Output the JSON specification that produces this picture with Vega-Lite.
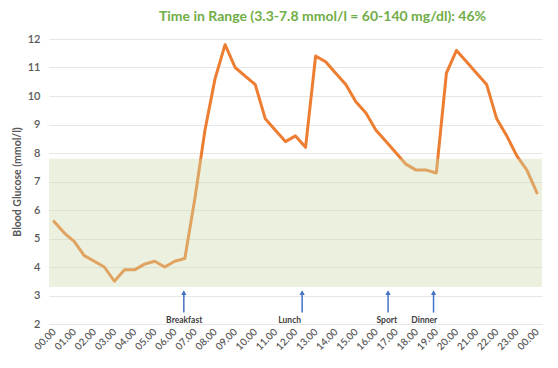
{
  "$schema": "https://vega.github.io/schema/vega-lite/v6.json",
  "width": 493,
  "height": 285,
  "autosize": {"type": "none"},
  "padding": {"left": 49, "top": 39, "right": 16, "bottom": 44},
  "background": "white",
  "config": {
    "view": {"stroke": null},
    "font": "Lato",
    "axis": {"labelFont": "Lato", "titleFont": "Lato"},
    "axisX": {
      "labelAngle": -45, "labelAlign": "right", "labelBaseline": "middle",
      "labelFontSize": 10, "labelFontWeight": 600, "labelColor": "#595959",
      "labelPadding": 6, "labelOverlap": false, "labelBound": false, "labelFlush": false,
      "ticks": false, "domain": false, "grid": false
    },
    "axisY": {
      "labelOverlap": false, "labelFontSize": 11, "labelFontWeight": 600, "labelColor": "#595959",
      "labelPadding": 9, "ticks": false, "domain": false, "gridColor": "#E6E6E6", "gridWidth": 1,
      "titleFontSize": 10.5, "titleFontWeight": "bold", "titleColor": "#595959", "titlePadding": 5
    }
  },
  "title": {
    "text": "Time in Range (3.3-7.8 mmol/l = 60-140 mg/dl): 46%",
    "color": "#70AD47",
    "fontSize": 14,
    "fontWeight": "bold",
    "font": "Lato",
    "anchor": "middle",
    "dx": 27,
    "offset": 9
  },
  "datasets": {
    "glucose": [
      {"h": 0, "g": 5.6}, {"h": 0.5, "g": 5.2}, {"h": 1, "g": 4.9}, {"h": 1.5, "g": 4.4},
      {"h": 2, "g": 4.2}, {"h": 2.5, "g": 4.0}, {"h": 3, "g": 3.5}, {"h": 3.5, "g": 3.9},
      {"h": 4, "g": 3.9}, {"h": 4.5, "g": 4.1}, {"h": 5, "g": 4.2}, {"h": 5.5, "g": 4.0},
      {"h": 6, "g": 4.2}, {"h": 6.5, "g": 4.3}, {"h": 7, "g": 6.4}, {"h": 7.5, "g": 8.8},
      {"h": 8, "g": 10.6}, {"h": 8.5, "g": 11.8}, {"h": 9, "g": 11.0}, {"h": 9.5, "g": 10.7},
      {"h": 10, "g": 10.4}, {"h": 10.5, "g": 9.2}, {"h": 11, "g": 8.8}, {"h": 11.5, "g": 8.4},
      {"h": 12, "g": 8.6}, {"h": 12.5, "g": 8.2}, {"h": 13, "g": 11.4}, {"h": 13.5, "g": 11.2},
      {"h": 14, "g": 10.8}, {"h": 14.5, "g": 10.4}, {"h": 15, "g": 9.8}, {"h": 15.5, "g": 9.4},
      {"h": 16, "g": 8.8}, {"h": 16.5, "g": 8.4}, {"h": 17, "g": 8.0}, {"h": 17.5, "g": 7.6},
      {"h": 18, "g": 7.4}, {"h": 18.5, "g": 7.4}, {"h": 19, "g": 7.3}, {"h": 19.5, "g": 10.8},
      {"h": 20, "g": 11.6}, {"h": 20.5, "g": 11.2}, {"h": 21, "g": 10.8}, {"h": 21.5, "g": 10.4},
      {"h": 22, "g": 9.2}, {"h": 22.5, "g": 8.6}, {"h": 23, "g": 7.9}, {"h": 23.5, "g": 7.4},
      {"h": 24, "g": 6.6}
    ],
    "band": [{"lo": 3.3, "hi": 7.8}],
    "events": [
      {"event": "Breakfast", "ax": 6.45, "tx": 6.47},
      {"event": "Lunch", "ax": 12.33, "tx": 11.71},
      {"event": "Sport", "ax": 16.6, "tx": 16.54},
      {"event": "Dinner", "ax": 18.86, "tx": 18.4}
    ]
  },
  "layer": [
    {
      "data": {"name": "glucose"},
      "mark": {"type": "line", "color": "#ED7D31", "strokeWidth": 3, "strokeCap": "round", "strokeJoin": "round"},
      "encoding": {
        "x": {
          "field": "h", "type": "quantitative",
          "scale": {"domain": [-0.25, 24.25], "nice": false, "zero": false},
          "axis": {
            "values": [0,1,2,3,4,5,6,7,8,9,10,11,12,13,14,15,16,17,18,19,20,21,22,23,24],
            "labelExpr": "datum.value == 24 ? '00.00' : (datum.value < 10 ? '0' : '') + datum.value + '.00'",
            "title": null
          }
        },
        "y": {
          "field": "g", "type": "quantitative",
          "scale": {"domain": [2, 12], "nice": false, "zero": false},
          "axis": {
            "values": [2,3,4,5,6,7,8,9,10,11,12],
            "title": "Blood Glucose (mmol/l)"
          }
        }
      }
    },
    {
      "data": {"name": "band"},
      "mark": {"type": "rect", "color": "#CDDCAC", "opacity": 0.4},
      "encoding": {
        "y": {"field": "lo", "type": "quantitative",
          "axis": {"values": [2,3,4,5,6,7,8,9,10,11,12], "title": "Blood Glucose (mmol/l)"}},
        "y2": {"field": "hi"}
      }
    },
    {
      "data": {"name": "events"},
      "mark": {"type": "rule", "color": "#4472C4", "strokeWidth": 1.5},
      "encoding": {
        "x": {"field": "ax", "type": "quantitative",
          "axis": {
            "values": [0,1,2,3,4,5,6,7,8,9,10,11,12,13,14,15,16,17,18,19,20,21,22,23,24],
            "labelExpr": "datum.value == 24 ? '00.00' : (datum.value < 10 ? '0' : '') + datum.value + '.00'",
            "title": null
          }},
        "y": {"datum": 2.4, "type": "quantitative",
          "axis": {"values": [2,3,4,5,6,7,8,9,10,11,12], "title": "Blood Glucose (mmol/l)"}},
        "y2": {"datum": 3.12}
      }
    },
    {
      "data": {"name": "events"},
      "mark": {"type": "point", "shape": "triangle-up", "filled": true, "color": "#4472C4", "size": 28, "opacity": 1},
      "encoding": {
        "x": {"field": "ax", "type": "quantitative",
          "axis": {
            "values": [0,1,2,3,4,5,6,7,8,9,10,11,12,13,14,15,16,17,18,19,20,21,22,23,24],
            "labelExpr": "datum.value == 24 ? '00.00' : (datum.value < 10 ? '0' : '') + datum.value + '.00'",
            "title": null
          }},
        "y": {"datum": 3.1, "type": "quantitative",
          "axis": {"values": [2,3,4,5,6,7,8,9,10,11,12], "title": "Blood Glucose (mmol/l)"}}
      }
    },
    {
      "data": {"name": "events"},
      "mark": {"type": "text", "fontSize": 8.5, "fontWeight": "bold", "color": "#404040", "baseline": "middle", "align": "center"},
      "encoding": {
        "x": {"field": "tx", "type": "quantitative",
          "axis": {
            "values": [0,1,2,3,4,5,6,7,8,9,10,11,12,13,14,15,16,17,18,19,20,21,22,23,24],
            "labelExpr": "datum.value == 24 ? '00.00' : (datum.value < 10 ? '0' : '') + datum.value + '.00'",
            "title": null
          }},
        "y": {"datum": 2.15, "type": "quantitative",
          "axis": {"values": [2,3,4,5,6,7,8,9,10,11,12], "title": "Blood Glucose (mmol/l)"}},
        "text": {"field": "event"}
      }
    }
  ]
}
